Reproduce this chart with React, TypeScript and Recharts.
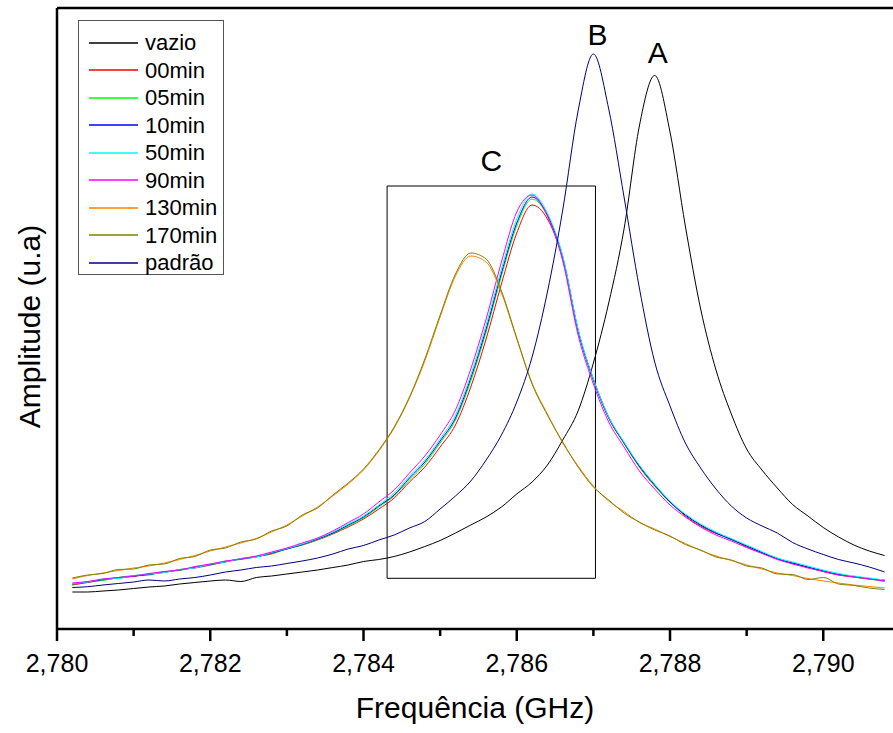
import React from 'react';
import {
  LineChart,
  Line,
  XAxis,
  YAxis,
  Legend,
  ReferenceArea,
  ReferenceDot,
} from 'recharts';

const FONT = '"Liberation Sans", Arial, sans-serif';

// frequency grid (GHz)
const FREQ = [
  2.7802, 2.7804, 2.7806, 2.7808, 2.781, 2.7812, 2.7814, 2.7816, 2.7818, 2.782,
  2.7822, 2.7824, 2.7826, 2.7828, 2.783, 2.7832, 2.7834, 2.7836, 2.7838, 2.784,
  2.7842, 2.7844, 2.7846, 2.7848, 2.785, 2.7852, 2.7854, 2.7856, 2.7858, 2.786,
  2.7862, 2.7864, 2.7866, 2.7868, 2.787, 2.7872, 2.7874, 2.7876, 2.7878, 2.788,
  2.7882, 2.7884, 2.7886, 2.7888, 2.789, 2.7892, 2.7894, 2.7896, 2.7898, 2.79,
  2.7902, 2.7904, 2.7906, 2.7908,
];

const X_TICKS = [2.78, 2.781, 2.782, 2.783, 2.784, 2.785, 2.786, 2.787, 2.788, 2.789, 2.79];

// amplitudes (u.a)
const VAZIO = [
  37, 37, 38, 39, 40.5, 42, 43, 45, 46.5, 48, 49, 47.5, 51.5, 53, 55, 57, 59, 61.5, 64, 67.5,
  69.5, 72.5, 77, 82.5, 88.5, 96, 104, 112, 122, 135, 147, 164, 189, 218, 266, 326, 400, 503,
  553.5, 497, 403, 320, 259, 215, 180, 159, 141, 124.5, 113, 101.5, 92, 84, 78, 73.5,
];
const MIN00 = [
  44, 46.5, 49, 51.5, 52.5, 55, 56.5, 59.5, 61, 64, 67, 70.5, 72.5, 75, 80.5, 84, 89, 95, 102, 110,
  120, 131, 147, 162, 182, 204, 242, 290, 345, 396, 424, 410, 370, 298, 250, 212, 186, 162, 143,
  127.5, 113, 103, 95.5, 90, 82, 76, 71, 65.5, 61.5, 57.5, 54, 52, 50, 49,
];
const MIN05 = [
  44.5, 47.5, 48.5, 51.5, 53.5, 54, 57.5, 58.5, 62, 64, 68, 69.5, 72.5, 75.5, 80, 84, 89.5, 95.5,
  103, 111, 122, 133, 149, 165, 186, 209, 248, 297, 353, 403, 430, 413, 371, 299, 249, 211, 185.5,
  162.5, 143, 126.5, 114, 104, 96.5, 89, 83.5, 76, 70.5, 66.5, 61.5, 58, 55, 52, 50, 47.5,
];
const MIN10 = [
  45, 47, 49.5, 51, 53, 54.5, 57, 59, 61.5, 64.5, 67.5, 70, 72, 76, 80, 84.5, 90, 96, 104, 112,
  123, 134, 151, 167, 188, 211, 251, 300, 356, 406, 432, 414, 372, 299, 249, 211, 186, 163, 144,
  127, 114, 104, 96, 89.5, 83, 76.5, 70, 66, 62, 58, 54.5, 52.5, 50.5, 48.5,
];
const MIN50 = [
  45.5, 47, 50, 50.5, 53.5, 55, 56.5, 59.5, 61, 65, 67, 70.5, 72, 76.5, 80.5, 85, 90.5, 97, 105,
  113, 124, 136, 153, 169, 190, 214, 254, 304, 360, 410, 435, 416, 373, 300, 250, 212, 187, 164,
  145, 128, 115, 105, 97, 90.5, 84, 77.5, 71, 67, 63, 59, 55.5, 53, 51, 49,
];
const MIN90 = [
  46, 47.5, 50, 51.5, 53, 55.5, 57.5, 59, 62.5, 65, 68, 70, 73, 77, 81, 86, 91, 98, 106.5, 115,
  127, 139, 156, 173, 194, 219, 260, 310, 367, 417, 434, 413, 368, 294, 245, 207, 182, 158, 140,
  124, 112, 102, 94, 88, 81.5, 75.5, 69.5, 65, 61, 57.5, 54, 52, 50, 48,
];
const MIN130 = [
  50, 53.5, 56, 58.5, 61, 63, 66, 69.5, 73.5, 78, 82, 86, 90.5, 97, 104, 113, 122, 133, 145, 159,
  178, 201, 231, 268, 312, 353, 373, 367, 336, 290, 246, 215, 186, 163, 143, 128, 117.5, 106.5,
  100, 92.5, 85.5, 78.5, 73, 68.5, 64, 60, 56, 53.5, 50.5, 48, 46, 44, 42.5, 41,
];
const MIN170 = [
  51, 54, 55.5, 59.5, 60, 64, 65, 70.5, 72.5, 79, 81, 87, 90, 98, 103, 114, 121, 134, 146, 160,
  179, 202, 232, 270, 314, 355, 376, 370, 338, 291, 245, 214, 187, 162, 142, 129, 116, 107, 99,
  93, 84.5, 79, 72, 69, 63, 61, 55, 54.5, 49.5, 51.5, 45, 43.5, 41, 39.5,
];
const PADRAO = [
  41.5, 42.3, 44, 45.5, 47, 49, 48, 50, 51.5, 54, 57, 59, 61.5, 63, 65.5, 68, 71, 75, 80, 83.5,
  89, 94, 101, 107.5, 120, 133, 148, 169, 194, 227, 272, 337, 419, 518, 575, 520, 432, 341, 267,
  223, 186, 161, 140, 123, 111, 103, 96, 86.5, 80, 74.5, 69.5, 66, 62, 57,
];

const SERIES = [
  { key: 'vazio', color: '#000000', values: VAZIO },
  { key: '00min', color: '#ff0000', values: MIN00 },
  { key: '05min', color: '#00ff00', values: MIN05 },
  { key: '10min', color: '#0000ff', values: MIN10 },
  { key: '50min', color: '#00ffff', values: MIN50 },
  { key: '90min', color: '#ff00ff', values: MIN90 },
  { key: '130min', color: '#ff8000', values: MIN130 },
  { key: '170min', color: '#808000', values: MIN170 },
  { key: 'padrão', color: '#000080', values: PADRAO },
];

const data = FREQ.map((f, i) => {
  const row: Record<string, number> = { f };
  SERIES.forEach((s) => {
    row[s.key] = s.values[i];
  });
  return row;
});

const FreqTick = ({ x, y, payload }: any) => {
  const major = Math.round(payload.value * 1000) % 2 === 0;
  return (
    <g>
      <line x1={x} y1={y} x2={x} y2={y + (major ? 12 : 7)} stroke="#000" strokeWidth={2.5} />
      {major && (
        <text x={x} y={y + 43} textAnchor="middle" fontSize={25} fill="#000">
          {payload.value.toFixed(3).replace('.', ',')}
        </text>
      )}
    </g>
  );
};

const LegendBox = () => (
  <div
    style={{
      width: 146,
      height: 255,
      boxSizing: 'border-box',
      border: '1px solid #555',
      background: '#fff',
      paddingTop: 8,
      fontFamily: FONT,
    }}
  >
    {SERIES.map((s) => (
      <div key={s.key} style={{ display: 'flex', alignItems: 'center', height: 27.5 }}>
        <svg width={59} height={6} style={{ display: 'block' }}>
          <line x1={10} y1={3} x2={59} y2={3} stroke={s.color} strokeWidth={1.5} />
        </svg>
        <span style={{ marginLeft: 7, fontSize: 22, lineHeight: '27.5px', color: '#000' }}>{s.key}</span>
      </div>
    ))}
  </div>
);

export default function App() {
  return (
    <div style={{ position: 'absolute', left: 0, top: 0, width: 893, height: 733, fontFamily: FONT }}>
      <LineChart width={893} height={733} data={data} margin={{ top: 0, right: 0, bottom: 34, left: 56 }}>
        <XAxis
          xAxisId="top"
          orientation="top"
          dataKey="f"
          type="number"
          domain={[2.78, 2.79091]}
          allowDataOverflow
          ticks={X_TICKS}
          interval={0}
          height={8}
          tick={false}
          tickSize={3}
          tickLine={{ stroke: '#999' }}
          axisLine={{ stroke: '#000', strokeWidth: 2.5 }}
        />
        <XAxis
          dataKey="f"
          type="number"
          domain={[2.78, 2.79091]}
          allowDataOverflow
          ticks={X_TICKS}
          interval={0}
          height={70}
          tickSize={0}
          tickMargin={0}
          tickLine={false}
          tick={<FreqTick />}
          axisLine={{ stroke: '#000', strokeWidth: 2.5 }}
          label={{ value: 'Frequência (GHz)', position: 'insideBottom', offset: -19, fontSize: 30, fill: '#000' }}
        />
        <YAxis
          type="number"
          domain={[0, 621]}
          allowDataOverflow
          width={1}
          tick={false}
          tickLine={false}
          axisLine={{ stroke: '#000', strokeWidth: 2.5 }}
          label={{ value: 'Amplitude (u.a)', angle: -90, position: 'center', dx: -27.5, dy: 8, fontSize: 30, fill: '#000' }}
        />
        <Legend
          layout="vertical"
          align="center"
          verticalAlign="middle"
          wrapperStyle={{ top: 20, left: 78 }}
          content={() => <LegendBox />}
        />
        <ReferenceArea
          x1={2.784308}
          x2={2.787027}
          y1={50.7}
          y2={443}
          fill="none"
          stroke="#000"
          strokeWidth={1}
          label={{ value: 'C', position: 'top', offset: 15, fontSize: 30, fill: '#000' }}
        />
        {SERIES.map((s) => (
          <Line
            key={s.key}
            type="monotone"
            dataKey={s.key}
            stroke={s.color}
            strokeWidth={1}
            dot={false}
            activeDot={false}
            isAnimationActive={false}
          />
        ))}
        <ReferenceDot
          x={2.7878}
          y={553.5}
          r={0}
          stroke="none"
          label={{ value: 'A', position: 'top', offset: 13, dx: 3, fontSize: 30, fill: '#000' }}
        />
        <ReferenceDot
          x={2.787}
          y={575}
          r={0}
          stroke="none"
          label={{ value: 'B', position: 'top', offset: 9, dx: 4, fontSize: 30, fill: '#000' }}
        />
      </LineChart>
    </div>
  );
}
